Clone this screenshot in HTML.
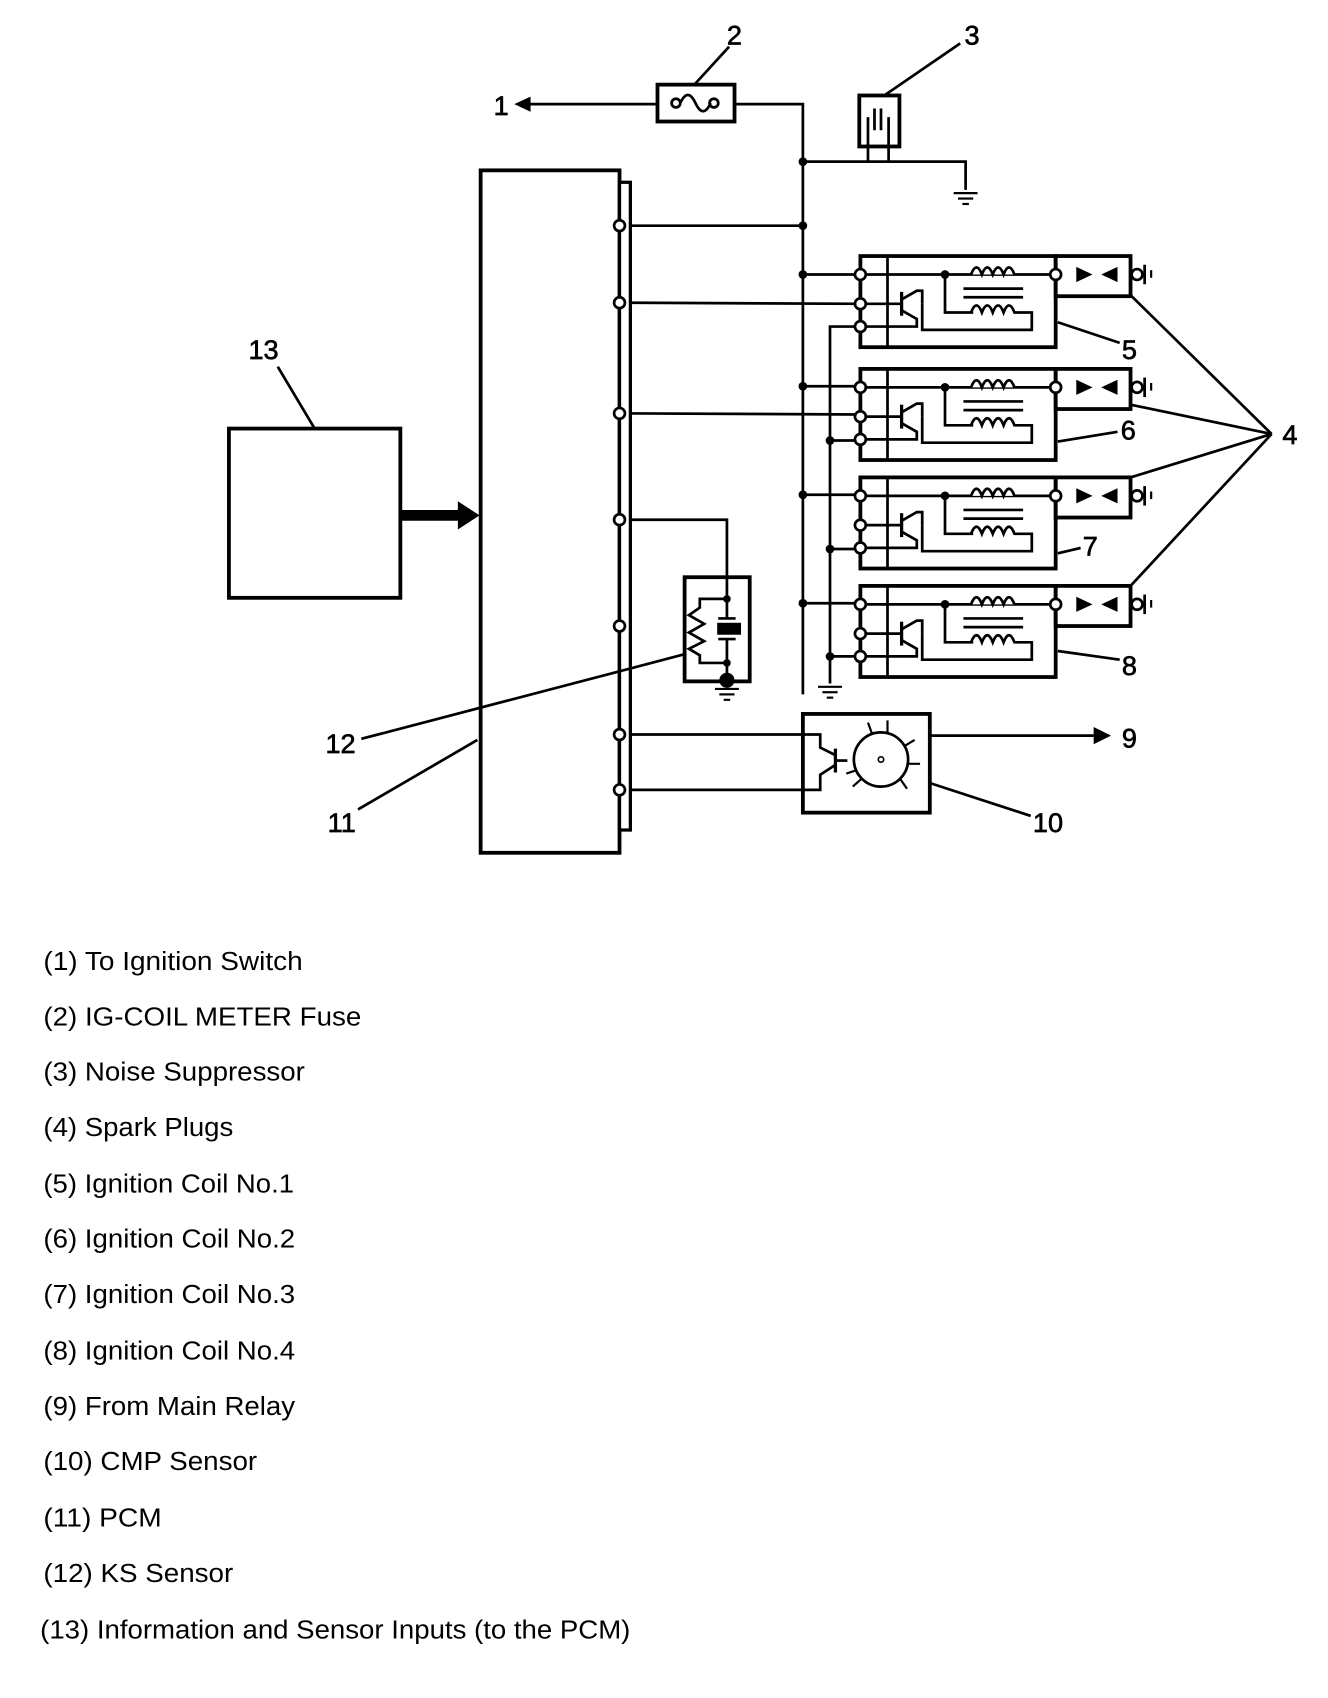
<!DOCTYPE html>
<html><head><meta charset="utf-8"><style>html,body{margin:0;padding:0;background:#fff}svg{display:block}</style></head>
<body>
<svg width="1328" height="1698" viewBox="0 0 1224 1565" preserveAspectRatio="none" xmlns="http://www.w3.org/2000/svg" font-family="Liberation Sans, sans-serif">
<defs>
<g id="coil">
  <rect x="793" y="0" width="180" height="84" fill="none" stroke="#000" stroke-width="3.5"/>
  <line x1="818" y1="0" x2="818" y2="84" stroke="#000" stroke-width="2.5"/>
  <rect x="973" y="0" width="69" height="37" fill="none" stroke="#000" stroke-width="3.5"/>
  <line x1="793" y1="17" x2="973" y2="17" stroke="#000" stroke-width="2.5"/>
  <circle cx="871" cy="17" r="4" fill="#000"/>
  <path d="M871 17 V52 H897" fill="none" stroke="#000" stroke-width="2.5"/>
  <path d="M895 17 q5 -13 10 0 q5 -13 10 0 q5 -13 10 0 q5 -13 10 0" fill="#fff" stroke="#000" stroke-width="2.5"/>
  <path d="M895 52 q5 -13 10 0 q5 -13 10 0 q5 -13 10 0 q5 -13 10 0 H951 V68 H850 V44" fill="none" stroke="#000" stroke-width="2.5"/>
  <line x1="888" y1="30" x2="943" y2="30" stroke="#000" stroke-width="2.5"/>
  <line x1="888" y1="38" x2="943" y2="38" stroke="#000" stroke-width="2.5"/>
  <line x1="793" y1="44" x2="831" y2="44" stroke="#000" stroke-width="2.5"/>
  <line x1="831" y1="33" x2="831" y2="55" stroke="#000" stroke-width="3"/>
  <path d="M831 40 L845 32 H850 V44 M831 50 L845 58 V65 H793" fill="none" stroke="#000" stroke-width="2.5"/>
  <circle cx="973" cy="17" r="5" fill="#fff" stroke="#000" stroke-width="2.5"/>
  <path d="M992 10 L1007 17 L992 24 Z M1030 10 L1015 17 L1030 24 Z" fill="#000"/>
  <circle cx="1048" cy="17" r="5" fill="#fff" stroke="#000" stroke-width="2.5"/>
  <line x1="1055" y1="8" x2="1055" y2="26" stroke="#000" stroke-width="2.5"/>
  <line x1="1061" y1="13" x2="1061" y2="20" stroke="#000" stroke-width="2"/>
  <circle cx="793" cy="17" r="5" fill="#fff" stroke="#000" stroke-width="2.5"/>
  <circle cx="793" cy="44" r="5" fill="#fff" stroke="#000" stroke-width="2.5"/>
  <circle cx="793" cy="65" r="5" fill="#fff" stroke="#000" stroke-width="2.5"/>
</g>
<g id="gnd"><line x1="-11" y1="0" x2="11" y2="0" stroke="#000" stroke-width="2"/><line x1="-7" y1="5" x2="7" y2="5" stroke="#000" stroke-width="2"/><line x1="-3" y1="10" x2="3" y2="10" stroke="#000" stroke-width="2"/></g>
</defs>
<g stroke="#000" fill="none" stroke-width="2.5">
  <line x1="484" y1="96" x2="606" y2="96"/>
  <path d="M677 96 H740 V640"/>
  <path d="M740 149 H890 V175"/>
  <line x1="800" y1="135" x2="800" y2="149"/><line x1="819" y1="135" x2="819" y2="149"/>
  <line x1="571" y1="208" x2="740" y2="208"/>
  <line x1="571" y1="279" x2="793" y2="280"/>
  <line x1="571" y1="381" x2="793" y2="382"/>
  <path d="M571 479 H670 V610"/>
  <path d="M571 677 H740"/><path d="M571 728 H740"/>
  <line x1="740" y1="253" x2="793" y2="253"/>
  <line x1="740" y1="356" x2="793" y2="356"/>
  <line x1="740" y1="456" x2="793" y2="456"/>
  <line x1="740" y1="556" x2="793" y2="556"/>
  <path d="M793 301 H765 V630"/>
  <line x1="765" y1="406" x2="793" y2="406"/>
  <line x1="765" y1="506" x2="793" y2="506"/>
  <line x1="765" y1="605" x2="793" y2="605"/>
  <line x1="857" y1="678" x2="1008" y2="678"/>
  <line x1="640" y1="78" x2="672" y2="43"/>
  <line x1="815" y1="88" x2="885" y2="40"/>
  <line x1="256" y1="338" x2="290" y2="395"/>
  <line x1="858" y1="722" x2="950" y2="752"/>
  <line x1="975" y1="297" x2="1032" y2="316"/>
  <line x1="975" y1="407" x2="1030" y2="398"/>
  <line x1="975" y1="510" x2="996" y2="505"/>
  <line x1="975" y1="600" x2="1032" y2="608"/>
  <line x1="1042" y1="272" x2="1172" y2="400"/>
  <line x1="1042" y1="373" x2="1172" y2="400"/>
  <line x1="1042" y1="440" x2="1172" y2="400"/>
  <line x1="1042" y1="540" x2="1172" y2="400"/>
</g>
<path d="M474 96 L489 89 L489 103 Z" fill="#000"/>
<path d="M1024 678 L1008 670 L1008 686 Z" fill="#000"/>
<rect x="606" y="78" width="71" height="34" fill="#fff" stroke="#000" stroke-width="3.5"/>
<circle cx="623" cy="95" r="4" fill="none" stroke="#000" stroke-width="2.5"/>
<circle cx="658" cy="95" r="4" fill="none" stroke="#000" stroke-width="2.5"/>
<path d="M627 95 q7 -15 14 0 q7 15 14 0" fill="none" stroke="#000" stroke-width="2.5"/>
<rect x="792" y="88" width="37" height="47" fill="#fff" stroke="#000" stroke-width="3.5"/>
<path d="M800 135 V108 M806 120 V100 M812 120 V100 M819 135 V108" stroke="#000" stroke-width="2.5"/>
<use href="#gnd" x="890" y="178"/>
<g fill="#000">
<circle cx="740" cy="149" r="4"/><circle cx="740" cy="208" r="4"/><circle cx="740" cy="253" r="4"/><circle cx="740" cy="356" r="4"/><circle cx="740" cy="456" r="4"/><circle cx="740" cy="556" r="4"/>
<circle cx="765" cy="406" r="4"/><circle cx="765" cy="506" r="4"/><circle cx="765" cy="605" r="4"/>
</g>
<use href="#gnd" x="765" y="633"/>
<use href="#coil" y="236"/>
<use href="#coil" y="340"/>
<use href="#coil" y="440"/>
<use href="#coil" y="540"/>
<rect x="443" y="157" width="128" height="629" fill="#fff" stroke="#000" stroke-width="3.5"/>
<rect x="571" y="168" width="10" height="597" fill="#fff" stroke="#000" stroke-width="3"/>
<g fill="#fff" stroke="#000" stroke-width="2.5">
<circle cx="571" cy="208" r="5"/><circle cx="571" cy="279" r="5"/><circle cx="571" cy="381" r="5"/><circle cx="571" cy="479" r="5"/><circle cx="571" cy="577" r="5"/><circle cx="571" cy="677" r="5"/><circle cx="571" cy="728" r="5"/>
</g>
<g stroke="#000" stroke-width="2.5">
  <line x1="333" y1="681" x2="631" y2="603"/>
  <line x1="330" y1="746" x2="440" y2="682"/>
</g>
<rect x="211" y="395" width="158" height="156" fill="#fff" stroke="#000" stroke-width="3.5"/>
<path d="M369 470 H422 V462 L442 475 L422 488 V480 H369 Z" fill="#000"/>
<rect x="631" y="532" width="60" height="96" fill="#fff" stroke="#000" stroke-width="3.5"/>
<path d="M670 532 V552 H645 V560 L635 567 L649 575 L635 583 L649 591 L635 598 L645 604 V611 H670 V628" fill="none" stroke="#000" stroke-width="2.5"/>
<path d="M670 552 V570 M662 570 H678 M662 589 H678 M670 589 V611" stroke="#000" stroke-width="2.5"/>
<rect x="661" y="574" width="22" height="11" fill="#000"/>
<circle cx="670" cy="552" r="3.5" fill="#000"/><circle cx="670" cy="611" r="3.5" fill="#000"/><circle cx="670" cy="627" r="7" fill="#000"/>
<use href="#gnd" x="670" y="635"/>
<rect x="740" y="658" width="117" height="91" fill="#fff" stroke="#000" stroke-width="3.5"/>
<path d="M740 677 H756 V689 L770 696 M740 728 H756 V714 L770 705" fill="none" stroke="#000" stroke-width="2.5"/>
<line x1="770" y1="690" x2="770" y2="712" stroke="#000" stroke-width="3"/>
<line x1="770" y1="701" x2="781" y2="701" stroke="#000" stroke-width="2.5"/>
<circle cx="812" cy="700" r="25" fill="none" stroke="#000" stroke-width="2.5"/>
<circle cx="812" cy="700" r="2.5" fill="none" stroke="#000" stroke-width="1.5"/>
<path d="M818 675 V664 M804 677 L800 666 M833 688 L843 682 M837 704 L848 704 M829 717 L836 727 M795 717 L786 725 M789 710 L780 713" stroke="#000" stroke-width="2"/>
<g font-size="25" fill="#000" stroke="#000" stroke-width="0.6">
<text x="455" y="106">1</text>
<text x="670" y="41">2</text>
<text x="889" y="41">3</text>
<text x="1182" y="409">4</text>
<text x="1034" y="331">5</text>
<text x="1033" y="405">6</text>
<text x="998" y="512">7</text>
<text x="1034" y="622">8</text>
<text x="1034" y="689">9</text>
<text x="952" y="767">10</text>
<text x="302" y="767">11</text>
<text x="300" y="694">12</text>
<text x="229" y="331">13</text>
</g>
<g font-size="24" fill="#000">
<text x="40" y="894" textLength="239" lengthAdjust="spacingAndGlyphs">(1) To Ignition Switch</text>
<text x="40" y="945" textLength="293" lengthAdjust="spacingAndGlyphs">(2) IG-COIL METER Fuse</text>
<text x="40" y="996" textLength="241" lengthAdjust="spacingAndGlyphs">(3) Noise Suppressor</text>
<text x="40" y="1047" textLength="175" lengthAdjust="spacingAndGlyphs">(4) Spark Plugs</text>
<text x="40" y="1099" textLength="231" lengthAdjust="spacingAndGlyphs">(5) Ignition Coil No.1</text>
<text x="40" y="1150" textLength="232" lengthAdjust="spacingAndGlyphs">(6) Ignition Coil No.2</text>
<text x="40" y="1201" textLength="232" lengthAdjust="spacingAndGlyphs">(7) Ignition Coil No.3</text>
<text x="40" y="1253" textLength="232" lengthAdjust="spacingAndGlyphs">(8) Ignition Coil No.4</text>
<text x="40" y="1304" textLength="232" lengthAdjust="spacingAndGlyphs">(9) From Main Relay</text>
<text x="40" y="1355" textLength="197" lengthAdjust="spacingAndGlyphs">(10) CMP Sensor</text>
<text x="40" y="1407" textLength="109" lengthAdjust="spacingAndGlyphs">(11) PCM</text>
<text x="40" y="1458" textLength="175" lengthAdjust="spacingAndGlyphs">(12) KS Sensor</text>
<text x="37" y="1510" textLength="544" lengthAdjust="spacingAndGlyphs">(13) Information and Sensor Inputs (to the PCM)</text>
</g>
</svg>
</body></html>
